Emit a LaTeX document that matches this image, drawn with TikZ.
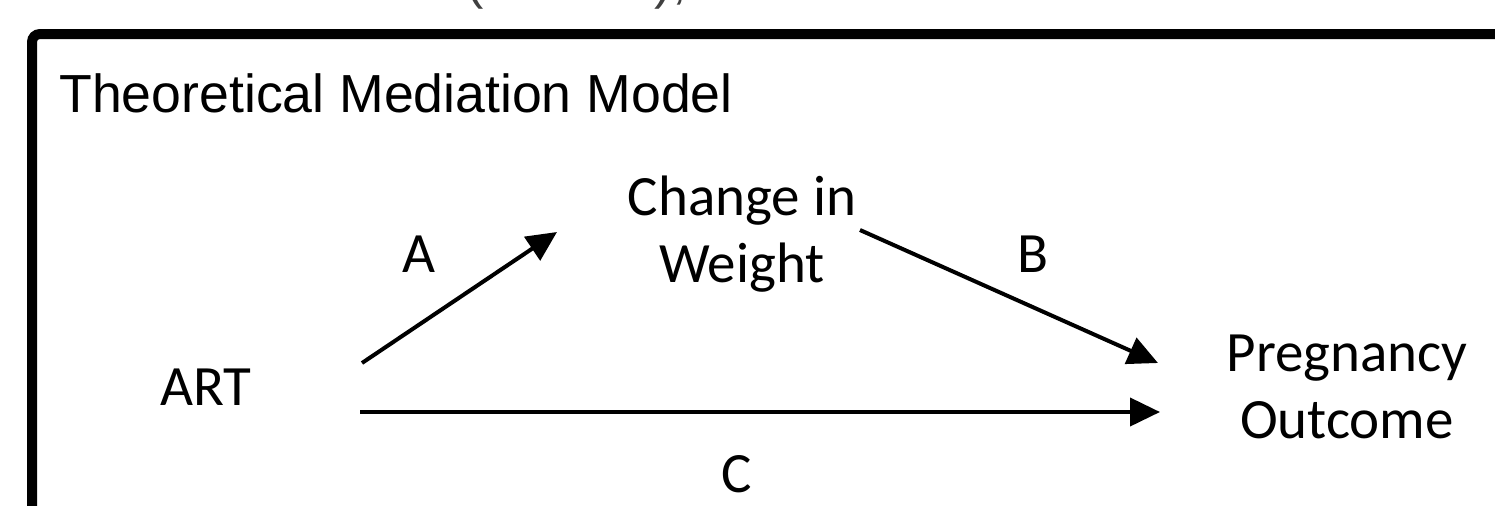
\documentclass[tikz,border=0pt]{standalone}
\usepackage{fontspec}
\setmainfont{Carlito}
\newfontfamily\arialf{Liberation Sans}
\usetikzlibrary{arrows.meta}
\begin{document}
\begin{tikzpicture}[x=0.5pt,y=-0.5pt,
  lbl/.style={font=\fontsize{28.5}{33.5}\selectfont, inner sep=0pt, anchor=base, align=center},
  conn/.style={line width=2pt, -{Triangle[length=15pt,width=14pt]}}]
\useasboundingbox (0,0) rectangle (1495,505);
\clip (0,0) rectangle (1495,505);
\fill[white] (0,0) rectangle (1495,505);
\node[anchor=base west, inner sep=0pt, text=black!75, font=\arialf\fontsize{26}{30}\selectfont] (cut) at (466,-2) {(\hspace*{85.5pt}),};
\draw[line width=5pt, rounded corners=4pt] (32,600) -- (32,34) -- (1600,34);
\node[anchor=base west, inner sep=0pt, font=\arialf\fontsize{26.8}{30}\selectfont] (title) at (59,112) {Theoretical Mediation Model};
\node[lbl] (art) at (206,405) {ART};
\node[lbl] (cw) at (742,282) {Change in\\Weight};
\node[lbl] (po) at (1347,438) {Pregnancy\\Outcome};
\node[lbl] (la) at (419,272) {A};
\node[lbl] (lb) at (1033,272) {B};
\node[lbl] (lc) at (737,492) {C};
\coordinate (a1) at (362,363);
\coordinate (a2) at (557,232);
\coordinate (b1) at (860,230);
\coordinate (b2) at (1158,363);
\coordinate (c1) at (360,412);
\coordinate (c2) at (1160,412);
\draw[conn] (a1) -- (a2);
\draw[conn] (b1) -- (b2);
\draw[conn] (c1) -- (c2);
\end{tikzpicture}
\end{document}
